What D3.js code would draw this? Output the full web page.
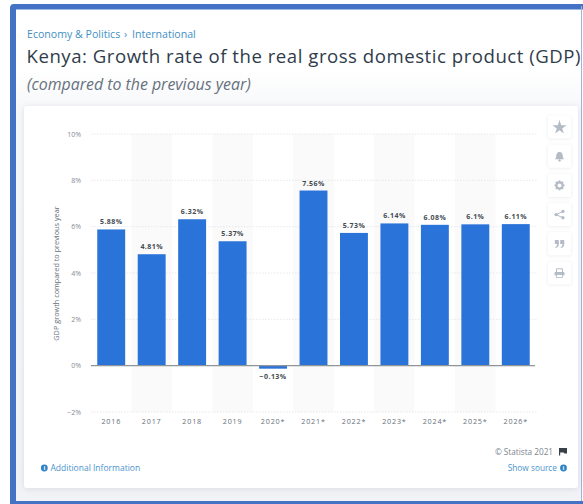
<!DOCTYPE html>
<html>
<head>
<meta charset="utf-8">
<script src="https://cdn.jsdelivr.net/npm/d3@7/dist/d3.min.js"></script>
<style>
html,body{margin:0;padding:0;background:#fff;}
svg{display:block;}
text{font-family:"Open Sans",sans-serif;}
.tick line,.domain{display:none;}
</style>
</head>
<body>
<svg id="chart" width="583" height="504"></svg>
<script>
const years = ["2016","2017","2018","2019","2020*","2021*","2022*","2023*","2024*","2025*","2026*"];
const growth = [5.88,4.81,6.32,5.37,-0.13,7.56,5.73,6.14,6.08,6.1,6.11];
const valueLabels = ["5.88%","4.81%","6.32%","5.37%","−0.13%","7.56%","5.73%","6.14%","6.08%","6.1%","6.11%"];
const yTicks = [-2,0,2,4,6,8,10];
const toolbarIcons = ["star","bell","gear","share","quote","print"];

const svg = d3.select("#chart");

// Page frame and card
const defs = svg.append("defs");
const shadow = defs.append("filter").attr("id","cardShadow")
  .attr("x","-5%").attr("y","-5%").attr("width","110%").attr("height","110%");
shadow.append("feDropShadow").attr("dx",0).attr("dy",1).attr("stdDeviation",3)
  .attr("flood-color","#8a94a6").attr("flood-opacity",0.25);
const btnShadow = defs.append("filter").attr("id","btnShadow")
  .attr("x","-30%").attr("y","-30%").attr("width","160%").attr("height","160%");
btnShadow.append("feDropShadow").attr("dx",0).attr("dy",0.5).attr("stdDeviation",1.5)
  .attr("flood-color","#8a94a6").attr("flood-opacity",0.2);

const pageFill = defs.append("linearGradient").attr("id","pageFill").attr("x1",0).attr("x2",0).attr("y1",0).attr("y2",1);
pageFill.append("stop").attr("offset","0.12").attr("stop-color","#ffffff");
pageFill.append("stop").attr("offset","0.2").attr("stop-color","#f7f8fa");
pageFill.append("stop").attr("offset","1").attr("stop-color","#f2f3f7");

svg.append("rect").attr("width",583).attr("height",504).attr("fill","#ffffff");
svg.append("rect").attr("x",16).attr("y",9).attr("width",565).attr("height",492).attr("fill","url(#pageFill)");
svg.append("path")
  .attr("d","M10 504V8Q10 4 14 4H583V9.5H16V504Z")
  .attr("fill","#4472c4");
svg.append("rect").attr("x",10).attr("y",501).attr("width",573).attr("height",3).attr("fill","#4472c4");
svg.append("rect").attr("x",581).attr("y",6).attr("width",1).attr("height",495).attr("fill","#9db3dc");

svg.append("rect").attr("x",24).attr("y",106).attr("width",554).attr("height",382)
  .attr("rx",3).attr("fill","#fff").attr("filter","url(#cardShadow)");

// Headings
const crumbs = svg.append("g").attr("font-size",10.6).attr("fill","#3f8fc4");
crumbs.append("text").attr("x",27).attr("y",38).text("Economy & Politics");
crumbs.append("text").attr("x",124).attr("y",38).text("›");
crumbs.append("text").attr("x",132).attr("y",38).text("International");
svg.append("text").attr("x",26.5).attr("y",63).attr("font-size",18.6).attr("fill","#2f3c4b")
  .attr("textLength",554).attr("lengthAdjust","spacing")
  .text("Kenya: Growth rate of the real gross domestic product (GDP)");
svg.append("text").attr("x",27).attr("y",89.5).attr("font-size",15.9).attr("font-style","italic")
  .attr("fill","#66717d").text("(compared to the previous year)");

// Scales
const x = d3.scaleBand().domain(years).range([91,536]).paddingInner(0.31).paddingOuter(0.155);
const y = d3.scaleLinear().domain([-2,10]).range([412,134]);

// Alternating column shading
const plot = svg.append("g");
plot.selectAll("rect.stripe").data(years.filter((d,i)=>i%2===1)).join("rect")
  .attr("class","stripe")
  .attr("x",d=>x(d)-x.step()*x.paddingInner()/2)
  .attr("width",x.step())
  .attr("y",y(10)).attr("height",y(-2)-y(10))
  .attr("fill","#fafafb");

// Gridlines
plot.selectAll("line.grid").data(yTicks.filter(d=>d!==0)).join("line")
  .attr("class","grid")
  .attr("x1",91).attr("x2",537)
  .attr("y1",d=>y(d)).attr("y2",d=>y(d))
  .attr("stroke","#e6e8eb").attr("stroke-width",1).attr("stroke-dasharray","1.5 1.5");

// Axes
const yAxis = svg.append("g").attr("transform","translate(81,0)")
  .call(d3.axisLeft(y).tickValues(yTicks).tickSize(0).tickPadding(0).tickFormat(d=>(d<0?"−":"")+Math.abs(d)+"%"));
yAxis.selectAll("text").attr("font-size",7).attr("fill","#858c95");

const xAxis = svg.append("g").attr("transform","translate(0,419)")
  .call(d3.axisBottom(x).tickSize(0).tickPadding(0));
xAxis.selectAll("text").attr("font-size",7.2).attr("letter-spacing",0.8).attr("fill","#666e79").attr("dy","0.71em");

svg.append("text")
  .attr("transform","translate(58.5,273.5) rotate(-90)")
  .attr("text-anchor","middle").attr("font-size",7.3).attr("fill","#666e79")
  .text("GDP growth compared to previous year");

// Bars
plot.selectAll("rect.bar").data(years).join("rect")
  .attr("class","bar")
  .attr("x",d=>x(d))
  .attr("width",x.bandwidth())
  .attr("y",(d,i)=>y(Math.max(0,growth[i])))
  .attr("height",(d,i)=>Math.abs(y(growth[i])-y(0)))
  .attr("fill","#2a73d9");

// Zero baseline
svg.append("line").attr("x1",91).attr("x2",535).attr("y1",y(0)).attr("y2",y(0))
  .attr("stroke","#8f9498").attr("stroke-width",1.3);

// Value labels
svg.selectAll("text.value").data(years).join("text")
  .attr("class","value")
  .attr("x",d=>x(d)+x.bandwidth()/2)
  .attr("y",(d,i)=>growth[i]<0 ? y(growth[i])+10.5 : y(growth[i])-5)
  .attr("text-anchor","middle")
  .attr("font-size",7).attr("font-weight",700).attr("letter-spacing",0.45).attr("fill","#454b53")
  .text((d,i)=>valueLabels[i]);

// Toolbar buttons
const iconColor = "#b4bbc5";
const drawIcon = {
  star: g => g.append("path").attr("d",d3.symbol(d3.symbolStar,62)()).attr("fill",iconColor).attr("transform","translate(0,0.5)"),
  bell: g => {
    g.append("path").attr("d","M-4.5 3C-3 1.5-3.5-0.5-3-2C-2.5-3.6-1.2-4.2 0-4.2C1.2-4.2 2.5-3.6 3-2C3.5-0.5 3 1.5 4.5 3Z").attr("fill",iconColor);
    g.append("circle").attr("cy",4.2).attr("r",1.2).attr("fill",iconColor);
  },
  gear: g => {
    g.append("circle").attr("r",3).attr("fill","none").attr("stroke",iconColor).attr("stroke-width",2.2);
    g.selectAll("rect.tooth").data(d3.range(0,180,45)).join("rect")
      .attr("class","tooth")
      .attr("x",-0.9).attr("y",-5).attr("width",1.8).attr("height",10)
      .attr("fill",iconColor).attr("transform",d=>`rotate(${d})`);
    g.append("circle").attr("r",2).attr("fill","#fff");
  },
  share: g => {
    g.append("path").attr("d","M3.4-3.2L-3.4 0L3.4 3.2").attr("fill","none").attr("stroke",iconColor).attr("stroke-width",1);
    [[3.4,-3.2],[-3.4,0],[3.4,3.2]].forEach(p=>g.append("circle").attr("cx",p[0]).attr("cy",p[1]).attr("r",1.7).attr("fill",iconColor));
  },
  quote: g => {
    [-2.7,2.7].forEach(dx=>{
      const q = g.append("g").attr("transform",`translate(${dx},0)`);
      q.append("rect").attr("x",-2).attr("y",-3.8).attr("width",4).attr("height",4).attr("rx",0.6).attr("fill",iconColor);
      q.append("path").attr("d","M0.2-1H2V0.5C2 2.5 0.8 3.8-1.2 4.2L-1.6 3.2C-0.4 2.8 0.2 2 0.2 0.6Z").attr("fill",iconColor);
    });
  },
  print: g => {
    g.append("path").attr("d","M-3-1V-4.2H3V-1").attr("fill","none").attr("stroke",iconColor).attr("stroke-width",1);
    g.append("rect").attr("x",-5).attr("y",-1).attr("width",10).attr("height",3.5).attr("rx",1).attr("fill",iconColor);
    g.append("rect").attr("x",-3).attr("y",1.5).attr("width",6).attr("height",3).attr("fill","#fff").attr("stroke",iconColor).attr("stroke-width",0.8);
  }
};
const buttons = svg.selectAll("g.btn").data(toolbarIcons).join("g")
  .attr("class","btn")
  .attr("transform",(d,i)=>`translate(559.5,${127+i*29.2})`);
buttons.append("rect").attr("x",-11.5).attr("y",-11.5).attr("width",23).attr("height",23).attr("rx",2)
  .attr("fill","#fff").attr("filter","url(#btnShadow)");
buttons.each(function(d){ drawIcon[d](d3.select(this)); });

// Footer
svg.append("text").attr("x",553).attr("y",454.5).attr("text-anchor","end").attr("font-size",8.2)
  .attr("fill","#7c858f").text("© Statista 2021");
svg.append("path").attr("d","M559 448H567V453.5H564.5L563.5 452.5H560.2V455.5H559Z").attr("fill","#3a4048");

svg.append("circle").attr("cx",44.3).attr("cy",468).attr("r",3.4).attr("fill","#2f82c6");
svg.append("text").attr("x",44.3).attr("y",470.3).attr("text-anchor","middle").attr("font-size",6).attr("font-weight",700).attr("fill","#fff").text("i");
svg.append("text").attr("x",50.5).attr("y",471).attr("font-size",8.5).attr("fill","#4a94cf").text("Additional Information");

svg.append("text").attr("x",557).attr("y",471).attr("text-anchor","end").attr("font-size",8.3).attr("fill","#4a94cf").text("Show source");
svg.append("circle").attr("cx",563.5).attr("cy",468).attr("r",3.4).attr("fill","#2f82c6");
svg.append("text").attr("x",563.5).attr("y",470.3).attr("text-anchor","middle").attr("font-size",6).attr("font-weight",700).attr("fill","#fff").text("i");
</script>
</body>
</html>
